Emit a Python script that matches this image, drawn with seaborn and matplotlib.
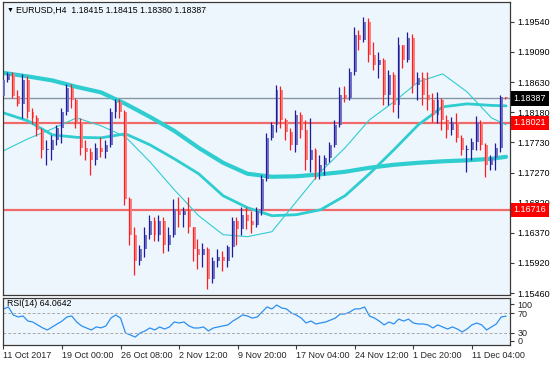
import numpy as np
import pandas as pd
import seaborn as sns
import matplotlib.pyplot as plt
import matplotlib.transforms as mtransforms

sns.set_theme(style="white")
plt.rcParams['font.family'] = ['Liberation Sans', 'DejaVu Sans']

# EURUSD H4 bars
first_open = 1.1843
closes = [1.1867, 1.1876, 1.1843, 1.1831, 1.1867, 1.1819, 1.1810, 1.1792, 1.1762, 1.1762,
          1.1777, 1.1795, 1.1819, 1.1855, 1.1837, 1.1804, 1.1765, 1.1759, 1.1747, 1.1765,
          1.1759, 1.1769, 1.1819, 1.1834, 1.1819, 1.1687, 1.1634, 1.1594, 1.1612, 1.1634,
          1.1654, 1.1633, 1.1654, 1.1619, 1.1634, 1.1672, 1.1664, 1.1669, 1.1645, 1.1612,
          1.1604, 1.1612, 1.1567, 1.1594, 1.1600, 1.1594, 1.1615, 1.1654, 1.1642, 1.1664,
          1.1654, 1.1649, 1.1669, 1.1717, 1.1780, 1.1799, 1.1852, 1.1807, 1.1789, 1.1769,
          1.1814, 1.1792, 1.1747, 1.1762, 1.1729, 1.1739, 1.1750, 1.1769, 1.1799, 1.1844,
          1.1840, 1.1879, 1.1934, 1.1927, 1.1954, 1.1904, 1.1889, 1.1897, 1.1844, 1.1874,
          1.1829, 1.1919, 1.1897, 1.1930, 1.1859, 1.1870, 1.1844, 1.1837, 1.1814, 1.1837,
          1.1807, 1.1792, 1.1804, 1.1780, 1.1762, 1.1762, 1.1774, 1.1804, 1.1769, 1.1739,
          1.1750, 1.1765, 1.18415, 1.18387]
highs = [1.1870, 1.1879, 1.1878, 1.1852, 1.1876, 1.1873, 1.1825, 1.1814, 1.1795, 1.1777,
         1.1784, 1.1799, 1.1825, 1.1861, 1.1861, 1.1840, 1.1810, 1.1777, 1.1765, 1.1772,
         1.1781, 1.1777, 1.1825, 1.1838, 1.1838, 1.1822, 1.1690, 1.1645, 1.1619, 1.1645,
         1.1663, 1.1660, 1.1663, 1.1660, 1.1645, 1.1687, 1.1691, 1.1675, 1.1690, 1.1645,
         1.1627, 1.1622, 1.1615, 1.1600, 1.1612, 1.1609, 1.1619, 1.1660, 1.1660, 1.1676,
         1.1675, 1.1669, 1.1676, 1.1724, 1.1787, 1.1804, 1.1859, 1.1858, 1.1810, 1.1795,
         1.1822, 1.1819, 1.1807, 1.1810, 1.1765, 1.1754, 1.1754, 1.1774, 1.1807, 1.1856,
         1.1858, 1.1885, 1.1946, 1.1942, 1.1961, 1.1960, 1.1924, 1.1909, 1.1900, 1.1882,
         1.1879, 1.1931, 1.1919, 1.1939, 1.1936, 1.1878, 1.1878, 1.1878, 1.1847, 1.1849,
         1.1840, 1.1814, 1.1811, 1.1817, 1.1784, 1.1769, 1.1780, 1.1813, 1.1807, 1.1772,
         1.1754, 1.1772, 1.1844, 1.18415]
lows = [1.1838, 1.1864, 1.1840, 1.1828, 1.1810, 1.1810, 1.1801, 1.1783, 1.1750, 1.1739,
        1.1747, 1.1769, 1.1772, 1.1814, 1.1825, 1.1795, 1.1754, 1.1747, 1.1724, 1.1739,
        1.1751, 1.1750, 1.1766, 1.1810, 1.1810, 1.1679, 1.1619, 1.1574, 1.1589, 1.1601,
        1.1627, 1.1624, 1.1624, 1.1607, 1.1609, 1.1630, 1.1645, 1.1645, 1.1637, 1.1594,
        1.1582, 1.1585, 1.1552, 1.1562, 1.1585, 1.1579, 1.1586, 1.1601, 1.1619, 1.1634,
        1.1642, 1.1637, 1.1645, 1.1664, 1.1714, 1.1777, 1.1789, 1.1795, 1.1777, 1.1762,
        1.1759, 1.1780, 1.1732, 1.1729, 1.1717, 1.1717, 1.1724, 1.1744, 1.1766, 1.1796,
        1.1834, 1.1837, 1.1874, 1.1912, 1.1924, 1.1894, 1.1882, 1.1870, 1.1829, 1.1829,
        1.1819, 1.1810, 1.1885, 1.1894, 1.1847, 1.1837, 1.1829, 1.1822, 1.1804, 1.1802,
        1.1792, 1.1780, 1.1784, 1.1774, 1.1754, 1.1729, 1.1747, 1.1762, 1.1762, 1.1720,
        1.1732, 1.1732, 1.1759, 1.18380]

# moving averages, sampled every 5 bars
ma_idx = [0, 5, 10, 15, 20, 25, 30, 35, 40, 45, 50, 55, 60, 65, 70, 75, 80, 85, 90, 95, 100, 103]
ma_slow = [1.18771, 1.18718, 1.18658, 1.18561, 1.18478, 1.18306, 1.18111, 1.17901, 1.17646, 1.17421, 1.17256,
           1.17211, 1.17218, 1.17248, 1.17286, 1.17346, 1.17391, 1.17421, 1.17443, 1.17458, 1.17481, 1.17511]
ma_mid = [1.18171, 1.18051, 1.17841, 1.17803, 1.17796, 1.17856, 1.17691, 1.17481, 1.17256, 1.16926, 1.16746,
          1.16626, 1.16641, 1.16716, 1.16926, 1.17256, 1.17616, 1.17991, 1.18261, 1.18306, 1.18283, 1.18276]
ma_fast = [1.17601, 1.17781, 1.17931, 1.18096, 1.17976, 1.17811, 1.17436, 1.17016, 1.16626, 1.16341, 1.16311,
           1.16386, 1.16836, 1.17286, 1.17646, 1.18066, 1.18336, 1.18636, 1.18756, 1.18486, 1.18096, 1.17991]

rsi = [78.8, 83, 66.5, 62.4, 64.4, 54, 52, 46, 40, 35.6,
       41.8, 48, 54, 62.4, 64.4, 52, 44, 39.7, 35.6, 41.8,
       40, 44, 60, 66.5, 60, 29.4, 25.3, 21, 29.4, 33.5,
       39.7, 35.6, 41.8, 37.6, 41.8, 52, 50, 52, 44, 39.7,
       39.7, 41.8, 33.5, 39.7, 41.8, 44, 46, 54, 60, 66.5,
       64.4, 60, 62.4, 72.7, 83, 79, 87, 81, 79, 70.6,
       66.5, 60.3, 50, 54, 48, 50, 52, 56, 60, 68.5,
       68.5, 72.7, 79, 79, 83, 64.4, 60.3, 54, 46, 52,
       48, 58, 54, 58, 50, 48, 48, 46, 39.7, 46,
       41.8, 37.6, 41.8, 37.6, 31.5, 37.6, 46, 50, 46, 35.6,
       41.8, 48, 62.4, 64.06]

levels = [1.18021, 1.16716]
last_price = 1.18387
price_ticks = [1.15460, 1.15920, 1.16370, 1.16820, 1.17270, 1.17730, 1.18180, 1.18630, 1.19090, 1.19540]
date_pos = [0, 12, 24, 36, 48, 60, 72, 84, 96]
date_labels = ['11 Oct 2017', '19 Oct 00:00', '26 Oct 08:00', '2 Nov 12:00', '9 Nov 20:00',
               '17 Nov 04:00', '24 Nov 12:00', '1 Dec 20:00', '11 Dec 04:00']

bars = pd.DataFrame({'close': closes, 'high': highs, 'low': lows})
bars['i'] = np.arange(len(bars))
bars['open'] = [first_open] + closes[:-1]
up = bars['close'] >= bars['open']

bg = '#eef6fd'
spine_c = '#3a3a3a'
ma_c = '#2fcdd0'

fig = plt.figure(figsize=(5.5, 3.66), dpi=100, facecolor='white')
ax = fig.add_axes([3 / 550, 1 - 295 / 366, 507 / 550, 293 / 366])
ax_rsi = fig.add_axes([3 / 550, 1 - 345 / 366, 507 / 550, 47 / 366], sharex=ax)

for a in (ax, ax_rsi):
    a.set_facecolor(bg)
    a.grid(False)
    for s in a.spines.values():
        s.set_color(spine_c)
        s.set_linewidth(0.9)

# level lines
ax.axhline(last_price, color='#8796a4', lw=1, zorder=1)
for lv in levels:
    ax.axhline(lv, color='#f06a6a', lw=1.6, zorder=1)

# moving averages
sns.lineplot(x=ma_idx, y=ma_slow, ax=ax, color=ma_c, linewidth=3.0, zorder=2)
sns.lineplot(x=ma_idx, y=ma_mid, ax=ax, color=ma_c, linewidth=2.0, zorder=2)
sns.lineplot(x=ma_idx, y=ma_fast, ax=ax, color=ma_c, linewidth=0.8, zorder=2)

# candles
body_lo = bars[['open', 'close']].min(axis=1)
body_h = (bars['close'] - bars['open']).abs().clip(lower=0.00003)
ax.bar(bars['i'] - 0.25, body_h, bottom=body_lo, width=0.6, align='edge',
       color=np.where(up, '#7474c6', '#f58282'), linewidth=0, zorder=3)
ax.vlines(bars['i'] - 0.25, bars['low'], bars['high'],
          colors=np.where(up, '#1c1c9c', '#ff1e1e'), linewidth=0.9, zorder=4)

ax.set_xlim(-0.1, 103.8)
ax.set_ylim(1.15435, 1.19836)
ax.yaxis.tick_right()
ax.set_yticks(price_ticks)
ax.set_yticklabels([f'{t:.5f}' for t in price_ticks])
ax.tick_params(axis='y', direction='out', length=3, width=0.8, color=spine_c,
               labelsize=6.5, pad=2.5, labelcolor='black', left=False, right=True)
ax.tick_params(axis='x', bottom=False, labelbottom=False)
ax.set_xlabel('')
ax.set_ylabel('')

# price boxes on the right
trans = mtransforms.blended_transform_factory(ax.transAxes, ax.transData)
ax.text(1.0075, last_price, f'{last_price:.5f}', transform=trans, ha='left', va='center',
        color='white', fontsize=6.5, clip_on=False, zorder=10,
        bbox=dict(boxstyle='square,pad=0.3', fc='black', ec='none'))
for lv in levels:
    ax.text(1.0075, lv, f'{lv:.5f}', transform=trans, ha='left', va='center',
            color='white', fontsize=6.5, clip_on=False, zorder=10,
            bbox=dict(boxstyle='square,pad=0.3', fc='#ff0000', ec='none'))

# RSI panel
sns.lineplot(x=bars['i'], y=rsi, ax=ax_rsi, color='#2b8ff0', linewidth=0.9)
for lv in (70, 30):
    ax_rsi.axhline(lv, color='#a8a8a8', lw=0.7, ls=(0, (3, 2)))
ax_rsi.set_ylim(4.6, 101.5)
ax_rsi.yaxis.tick_right()
ax_rsi.set_yticks([89, 70, 30, 13])
ax_rsi.set_yticklabels(['100', '70', '30', '0'])
ax_rsi.tick_params(axis='y', direction='out', length=3, width=0.8, color=spine_c,
                   labelsize=6.5, pad=2.5, left=False, right=True)
ax_rsi.set_xticks(date_pos)
ax_rsi.set_xticklabels(date_labels, ha='left')
ax_rsi.tick_params(axis='x', direction='out', length=3, width=0.8, color=spine_c,
                   labelsize=6.5, pad=1.5, bottom=True)
ax_rsi.set_xlabel('')
ax_rsi.set_ylabel('')

# header texts
fig.text(7 / 550, 1 - 10 / 366, '\u25bc', fontsize=5, va='center', ha='left', color='black')
fig.text(16 / 550, 1 - 10 / 366, 'EURUSD,H4  1.18415 1.18415 1.18380 1.18387',
         fontsize=6.3, va='center', ha='left', color='black')
fig.text(7 / 550, 1 - 303 / 366, 'RSI(14) 64.0642', fontsize=6.3, va='center', ha='left', color='black')

fig.savefig('out.png', dpi=100, facecolor='white')
